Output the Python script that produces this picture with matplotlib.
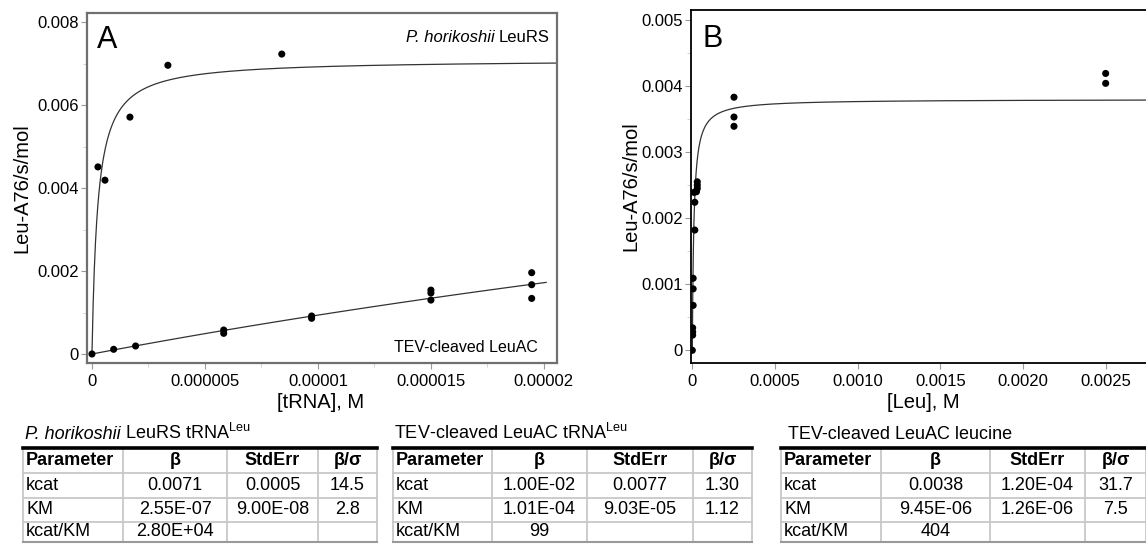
import numpy as np
import matplotlib
matplotlib.use("Agg")
from matplotlib import pyplot as plt

plt.rcParams['font.family'] = ['Liberation Sans', 'DejaVu Sans']
plt.rcParams['mathtext.fontset'] = 'custom'
plt.rcParams['mathtext.rm'] = 'Liberation Sans'
plt.rcParams['mathtext.it'] = 'Liberation Sans:italic'
plt.rcParams['mathtext.bf'] = 'Liberation Sans:bold'

# Define data: panel A, tRNA titration.
trna_ph = [2.65e-7, 5.75e-7, 1.68e-6, 3.36e-6, 8.4e-6]
rate_ph = [0.00451, 0.00419, 0.00571, 0.00696, 0.00723]
trna_tev = [0, 9.6e-7, 1.93e-6, 5.83e-6, 5.83e-6, 9.72e-6, 9.72e-6,
            1.5e-5, 1.5e-5, 1.5e-5, 1.946e-5, 1.946e-5, 1.946e-5]
rate_tev = [0, 0.000113, 0.000193, 0.000578, 0.000498, 0.000916, 0.00086,
            0.00154, 0.00147, 0.0013, 0.00196, 0.00167, 0.00134]
kcat_ph, km_ph = 0.0071, 2.55e-7
kcat_tev, km_tev = 0.0100, 1.01e-4

# Panel B, leucine titration.
leu = [0, 2e-6, 2e-6, 2e-6, 5e-6, 5e-6, 5e-6, 1.5e-5, 1.5e-5,
       1e-5, 2.5e-5, 3e-5, 3e-5, 3e-5, 2.52e-4, 2.52e-4, 2.52e-4, 0.0025, 0.0025]
rate_leu = [0, 0.00034, 0.00028, 0.00023, 0.00109, 0.00093, 0.00068, 0.00182,
            0.00224, 0.00239, 0.0024, 0.00245, 0.0025, 0.00255,
            0.00383, 0.00353, 0.00339, 0.00419, 0.00404]
kcat_leu, km_leu = 0.0038, 9.45e-6

# Tick labels.
a_xticks = [0, 5e-6, 1e-5, 1.5e-5, 2e-5]
a_xlabels = ['0', '0.000005', '0.00001', '0.000015', '0.00002']
a_yticks = [0, 0.002, 0.004, 0.006, 0.008]
a_ylabels = ['0', '0.002', '0.004', '0.006', '0.008']
b_xticks = [0, 0.0005, 0.001, 0.0015, 0.002, 0.0025]
b_xlabels = ['0', '0.0005', '0.0010', '0.0015', '0.0020', '0.0025']
b_yticks = [0, 0.001, 0.002, 0.003, 0.004, 0.005]
b_ylabels = ['0', '0.001', '0.002', '0.003', '0.004', '0.005']

# Tables: (italic part, plain part) for each title.
header = ['Parameter', 'β', 'StdErr', 'β/σ']
title1 = ('P. horikoshii', r'LeuRS tRNA$^{\mathrm{Leu}}$')
rows1 = [['kcat', '0.0071', '0.0005', '14.5'],
         ['KM', '2.55E-07', '9.00E-08', '2.8'],
         ['kcat/KM', '2.80E+04', '', '']]
title2 = ('', r'TEV-cleaved LeuAC tRNA$^{\mathrm{Leu}}$')
rows2 = [['kcat', '1.00E-02', '0.0077', '1.30'],
         ['KM', '1.01E-04', '9.03E-05', '1.12'],
         ['kcat/KM', '99', '', '']]
title3 = ('', 'TEV-cleaved LeuAC leucine')
rows3 = [['kcat', '0.0038', '1.20E-04', '31.7'],
         ['KM', '9.45E-06', '1.26E-06', '7.5'],
         ['kcat/KM', '404', '', '']]

W, H = 1146, 544
fig = plt.figure(figsize=(W / 100, H / 100), dpi=100)


def px_axes(left, top, right, bottom):
    return fig.add_axes([left / W, 1 - bottom / H, (right - left) / W, (bottom - top) / H])


def mm(x, kcat, km):
    x = np.asarray(x)
    return kcat * x / (km + x)


# Panel A
ax = px_axes(87, 13, 557, 363)
ax.set_xlim(-2.2e-7, 2.058e-5)
ax.set_ylim(-0.000217, 0.00822)
xs = np.linspace(0, 2.058e-5, 800)
ax.plot(xs, mm(xs, kcat_ph, km_ph), color='#333333', linewidth=0.9)
xs2 = np.linspace(0, 2.01e-5, 100)
ax.plot(xs2, mm(xs2, kcat_tev, km_tev) * 1.04, color='#333333', linewidth=0.9)
ax.scatter(trna_ph, rate_ph, c='black', s=26, edgecolors='none', zorder=3)
ax.scatter(trna_tev, rate_tev, c='black', s=26, edgecolors='none', zorder=3)
ax.set_xticks(a_xticks)
ax.set_xticklabels(a_xlabels)
ax.set_yticks(a_yticks)
ax.set_yticklabels(a_ylabels)
ax.set_xticks([2.5e-6, 7.5e-6, 1.25e-5, 1.75e-5], minor=True)
ax.set_yticks([0.001, 0.003, 0.005, 0.007], minor=True)
for s in ax.spines.values():
    s.set_color('#707070')
    s.set_linewidth(1.6)
ax.tick_params(axis='both', which='major', direction='out', length=4,
               color='#999999', labelsize=12, pad=2)
ax.tick_params(axis='both', which='minor', direction='out', length=3,
               color='#cccccc')
ax.tick_params(axis='x', which='major', pad=4)
ax.set_xlabel('[tRNA], M', fontsize=14.5)
ax.set_ylabel('Leu-A76/s/mol', fontsize=14.5)
ax.xaxis.set_label_coords(0.496, -0.085)
ax.yaxis.set_label_coords(-0.118, 0.5)
ax.text(0.021, 0.965, 'A', transform=ax.transAxes, fontsize=22, ha='left', va='top')
t_plain = ax.text(0.985, 0.929, 'LeuRS', transform=ax.transAxes,
                  fontsize=12, ha='right', va='center')
ax.annotate('P. horikoshii', xy=(0, 0), xycoords=t_plain, xytext=(-3, 0),
            textcoords='offset points', fontsize=12,
            fontstyle='italic', ha='right', va='bottom')
ax.text(0.960, 0.043, 'TEV-cleaved LeuAC', transform=ax.transAxes,
        fontsize=11.5, ha='right', va='center')

# Panel B
bx = px_axes(691, 10, 1146, 363)
bx.set_xlim(-8e-6, 0.002744)
bx.set_ylim(-0.000192, 0.00515)
xs3 = np.linspace(0, 0.00275, 3000)
bx.plot(xs3, mm(xs3, kcat_leu, km_leu), color='#333333', linewidth=0.9)
bx.scatter(leu, rate_leu, c='black', s=26, edgecolors='none', zorder=3)
bx.set_xticks(b_xticks)
bx.set_xticklabels(b_xlabels)
bx.set_yticks(b_yticks)
bx.set_yticklabels(b_ylabels)
bx.set_yticks([0.0005, 0.0015, 0.0025, 0.0035, 0.0045], minor=True)
bx.spines['right'].set_visible(False)
for s in ['left', 'bottom', 'top']:
    bx.spines[s].set_color('black')
    bx.spines[s].set_linewidth(1.3)
bx.tick_params(axis='both', which='major', direction='out', length=4,
               color='#999999', labelsize=12, pad=2)
bx.tick_params(axis='both', which='minor', direction='out', length=3,
               color='#cccccc')
bx.tick_params(axis='x', which='major', pad=4)
bx.set_xlabel('[Leu], M', fontsize=14.5)
bx.set_ylabel('Leu-A76/s/mol', fontsize=14.5)
bx.xaxis.set_label_coords(0.51, -0.085)
bx.yaxis.set_label_coords(-0.112, 0.5)
bx.text(0.026, 0.96, 'B', transform=bx.transAxes, fontsize=22, ha='left', va='top')

# Tables, drawn in pixel space.
tab = fig.add_axes([0, 0, 1, 1])
tab.set_xlim(0, W)
tab.set_ylim(H, 0)
tab.axis('off')

row_edges = [448, 473, 497.5, 521.5, 542]
fs = 13


def draw_table(cols, title, rows, title_x):
    t_it = tab.text(title_x, 443, title[0], fontsize=fs, fontstyle='italic',
                    ha='left', va='bottom')
    gap = 3 if title[0] else 0
    tab.annotate(title[1], xy=(1, 0), xycoords=t_it, xytext=(gap, 0),
                 textcoords='offset points', fontsize=fs, ha='left', va='bottom')
    # grid
    for y in row_edges[1:]:
        tab.plot([cols[0], cols[-1]], [y, y], color='#c8c8c8', linewidth=1.3)
    for x in cols:
        tab.plot([x, x], [row_edges[0], row_edges[-1]], color='#c8c8c8', linewidth=1.3)
    tab.plot([cols[0], cols[-1]], [row_edges[-1], row_edges[-1]], color='#999999', linewidth=1.5)
    tab.plot([cols[0], cols[-1]], [row_edges[0], row_edges[0]], color='black', linewidth=2.6)
    table = [header] + rows
    for r, row in enumerate(table):
        yc = (row_edges[r] + row_edges[r + 1]) / 2
        for c, cell in enumerate(row):
            weight = 'bold' if r == 0 else 'normal'
            if c == 0:
                tab.text(cols[0] + 3, yc, cell, fontsize=fs, fontweight=weight,
                         ha='left', va='center')
            else:
                tab.text((cols[c] + cols[c + 1]) / 2, yc, cell, fontsize=fs,
                         fontweight=weight, ha='center', va='center')


draw_table([23, 123, 227, 318, 377], title1, rows1, 25)
draw_table([393, 492, 587, 693, 752], title2, rows2, 394)
draw_table([781, 881, 990, 1085, 1146], title3, rows3, 788)

plt.savefig('out.png', dpi=100)
